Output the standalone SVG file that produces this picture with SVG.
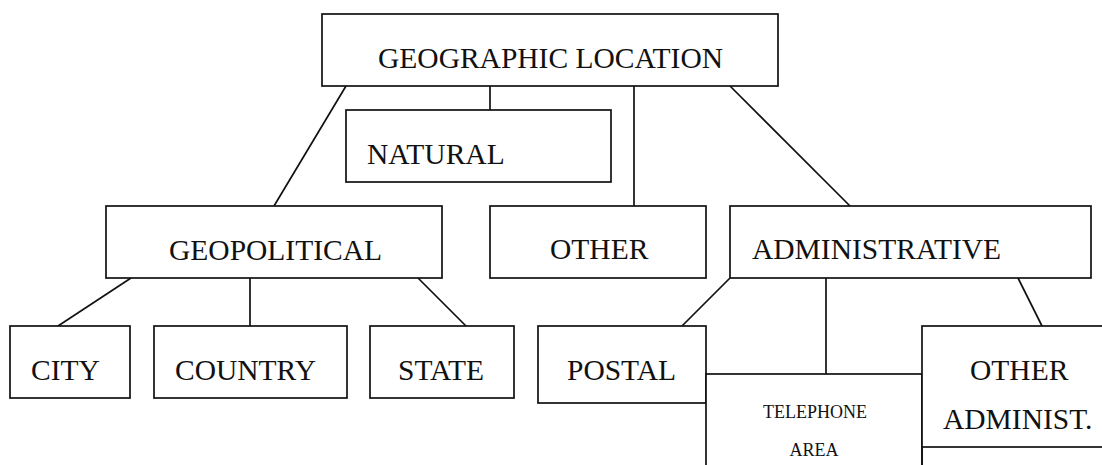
<svg xmlns="http://www.w3.org/2000/svg" width="1102" height="465" viewBox="0 0 1102 465">
  <style>
    .box { fill: #fff; stroke: #111; stroke-width: 1.7; }
    .edge { stroke: #111; stroke-width: 1.7; fill: none; }
    .lbl { font-family: "Liberation Serif", "Times New Roman", serif; font-size: 29.5px; fill: #111; }
    .small { font-family: "Liberation Serif", "Times New Roman", serif; font-size: 18px; fill: #111; text-anchor: middle; }
  </style>
  <rect width="1102" height="465" fill="#fff"/>

  <!-- connectors -->
  <g id="connectors">
    <line class="edge" x1="346" y1="86" x2="274" y2="206"/>
    <line class="edge" x1="490" y1="86" x2="490" y2="110"/>
    <line class="edge" x1="634" y1="86" x2="634" y2="206"/>
    <line class="edge" x1="730" y1="86" x2="850" y2="206"/>
    <line class="edge" x1="131" y1="278" x2="58" y2="326"/>
    <line class="edge" x1="250" y1="278" x2="250" y2="326"/>
    <line class="edge" x1="418" y1="278" x2="466" y2="326"/>
    <line class="edge" x1="730" y1="278" x2="682" y2="326"/>
    <line class="edge" x1="826" y1="278" x2="826" y2="374"/>
    <line class="edge" x1="1018" y1="278" x2="1042" y2="326"/>
  </g>

  <g id="geographic-location">
    <rect class="box" x="322" y="14" width="456" height="72"/>
    <text class="lbl" x="378" y="68">GEOGRAPHIC LOCATION</text>
  </g>
  <g id="natural">
    <rect class="box" x="346" y="110" width="265" height="72"/>
    <text class="lbl" x="367" y="164">NATURAL</text>
  </g>
  <g id="geopolitical">
    <rect class="box" x="106" y="206" width="336" height="72"/>
    <text class="lbl" x="169" y="260">GEOPOLITICAL</text>
  </g>
  <g id="other">
    <rect class="box" x="490" y="206" width="216" height="72"/>
    <text class="lbl" x="550" y="259">OTHER</text>
  </g>
  <g id="administrative">
    <rect class="box" x="730" y="206" width="361" height="72"/>
    <text class="lbl" x="752" y="259">ADMINISTRATIVE</text>
  </g>
  <g id="city">
    <rect class="box" x="10" y="326" width="120" height="72"/>
    <text class="lbl" x="31" y="380">CITY</text>
  </g>
  <g id="country">
    <rect class="box" x="154" y="326" width="193" height="72"/>
    <text class="lbl" x="175" y="380">COUNTRY</text>
  </g>
  <g id="state">
    <rect class="box" x="370" y="326" width="144" height="72"/>
    <text class="lbl" x="398" y="380">STATE</text>
  </g>
  <g id="postal">
    <rect class="box" x="538" y="326" width="168" height="77"/>
    <text class="lbl" x="567" y="380">POSTAL</text>
  </g>
  <g id="telephone-area">
    <rect class="box" x="706" y="374" width="216" height="110"/>
    <text class="small" x="815" y="418">TELEPHONE</text>
    <text class="small" x="814" y="456">AREA</text>
  </g>
  <g id="other-administ">
    <rect class="box" x="922" y="326" width="190" height="121"/>
    <line class="edge" x1="922" y1="447" x2="922" y2="470"/>
    <text class="lbl" x="970" y="380">OTHER</text>
    <text class="lbl" x="943" y="429">ADMINIST.</text>
  </g>
</svg>
